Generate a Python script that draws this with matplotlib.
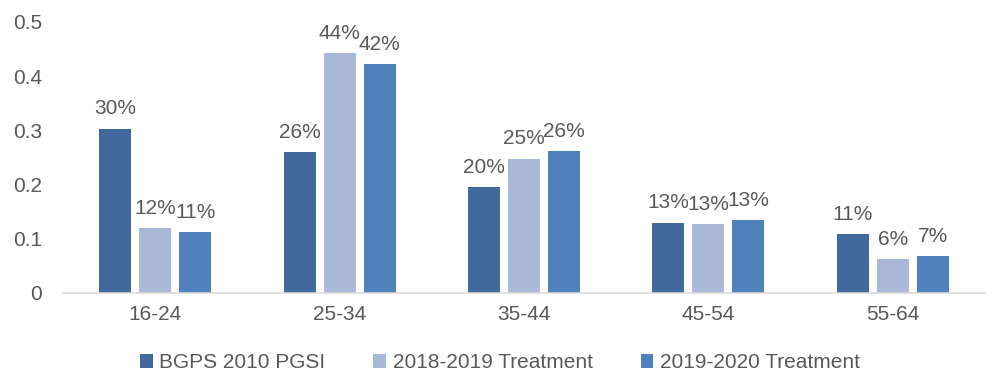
import matplotlib.pyplot as plt
import numpy as np

# data
categorias = ["16-24", "25-34", "35-44", "45-54", "55-64"]
bgps_2010 = [0.303, 0.26, 0.195, 0.13, 0.108]
trat_2018 = [0.12, 0.442, 0.248, 0.127, 0.062]
trat_2019 = [0.112, 0.422, 0.262, 0.134, 0.068]
series = ["BGPS 2010 PGSI", "2018-2019 Treatment", "2019-2020 Treatment"]
colores = ["#41699B", "#A9B9D7", "#4F81BD"]

plt.rcParams['font.family'] = ['Liberation Sans', 'DejaVu Sans']
gris = "#595959"
fs = 15

fig = plt.figure(figsize=(10, 3.92), dpi=100)
ax = fig.add_axes([0.063, 0.2526, 0.922, 0.6914])

x = np.arange(len(categorias))
ancho = 0.174
paso = 0.217
for i, (vals, nombre) in enumerate(zip([bgps_2010, trat_2018, trat_2019], series)):
    barras = ax.bar(x + (i - 1) * paso, vals, ancho, color=colores[i], label=nombre)
    for b, v in zip(barras, vals):
        ax.text(b.get_x() + b.get_width() / 2, v + 0.019, f"{v:.0%}",
                ha="center", va="bottom", fontsize=fs, color=gris)

ax.set_xlim(-0.5, len(categorias) - 0.5)
ax.set_ylim(0, 0.5)
ax.set_yticks([0, 0.1, 0.2, 0.3, 0.4, 0.5])
ax.set_yticklabels(["0", "0.1", "0.2", "0.3", "0.4", "0.5"])
ax.set_xticks(x)
ax.set_xticklabels(categorias)
ax.tick_params(axis="both", length=0, labelsize=fs, colors=gris)
ax.tick_params(axis="y", pad=15)
ax.tick_params(axis="x", pad=9)
for lado in ["top", "right", "left"]:
    ax.spines[lado].set_visible(False)
ax.spines["bottom"].set_color("#D9D9D9")
ax.spines["bottom"].set_linewidth(1.2)

leyenda = fig.legend(loc="center", bbox_to_anchor=(0.5, 0.074), ncol=3, frameon=False,
                     fontsize=fs, handlelength=0.62, handleheight=0.62, handletextpad=0.3,
                     columnspacing=2.3)
for t in leyenda.get_texts():
    t.set_color(gris)

plt.savefig("out.png")
